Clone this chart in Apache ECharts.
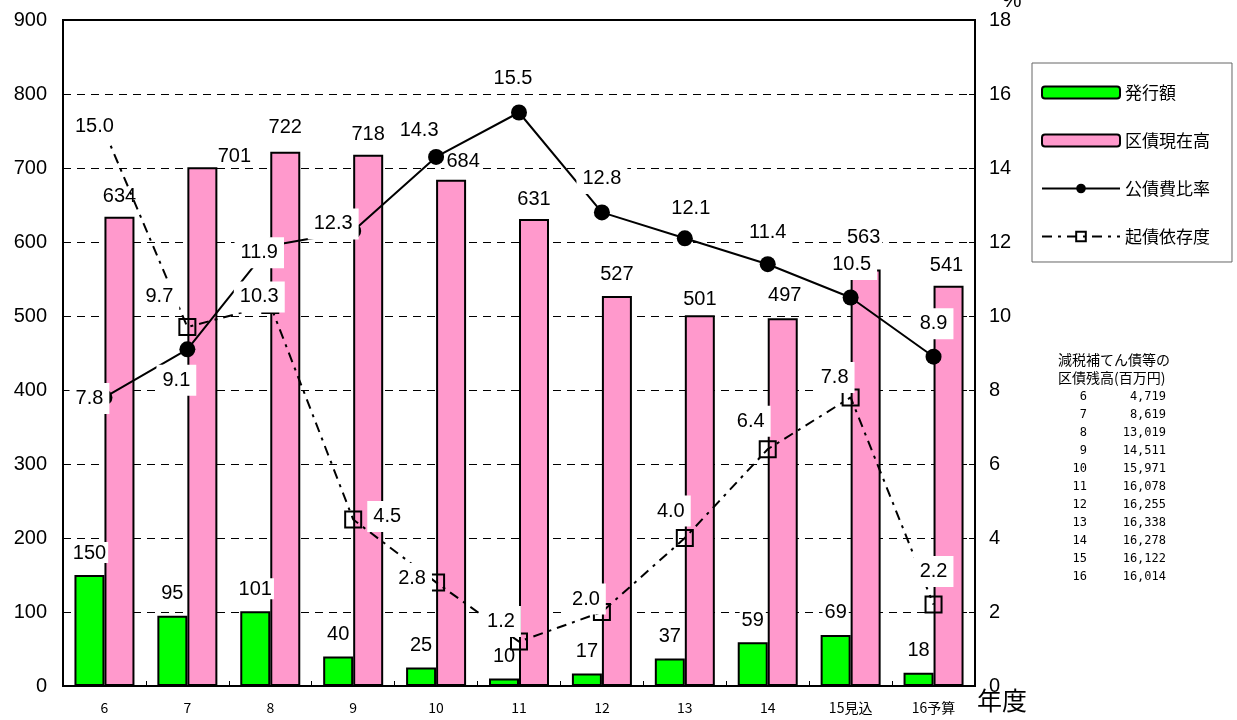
<!DOCTYPE html>
<html><head><meta charset="utf-8">
<script src="https://cdn.jsdelivr.net/npm/echarts@6/dist/echarts.min.js"></script>
<style>html,body{margin:0;padding:0;background:#fff}#c{width:1237px;height:720px}</style>
</head><body><div id="c"></div>
<script>
// ---- data ----
const categories = ['6','7','8','9','10','11','12','13','14','15見込','16予算'];
const issuance = [150, 95, 101, 40, 25, 10, 17, 37, 59, 69, 18];            // 発行額
const outstanding = [634, 701, 722, 718, 684, 631, 527, 501, 497, 563, 541]; // 区債現在高
const debtRatio = [7.8, 9.1, 11.9, 12.3, 14.3, 15.5, 12.8, 12.1, 11.4, 10.5, 8.9]; // 公債費比率
const dependency = [15.0, 9.7, 10.3, 4.5, 2.8, 1.2, 2.0, 4.0, 6.4, 7.8, 2.2];     // 起債依存度
const leftTicks = {min: 0, max: 900, interval: 100};
const rightTicks = {min: 0, max: 18, interval: 2};
const noteYears = ['6','7','8','9','10','11','12','13','14','15','16'];
const noteValues = ['4,719','8,619','13,019','14,511','15,971','16,078','16,255','16,338','16,278','16,122','16,014'];

// ---- label placement (style) ----
const outLabelOff = [[0,0],[32,9],[0,-4],[0,0],[12,2],[0,0],[0,-2],[0,4],[2,-3],[-2,-12],[-2,0]];
const ratioLabelOff = [[-15,1],[-11,31],[-11,7],[-20,-7],[-17,-26],[-6,-34],[0,-34],[6,-30],[0,-32],[1,-33],[0,-33]];
const depLabelOff = [[-10,-5],[-28,-31],[-11,-8],[34,-3],[-24,-4],[-18,-20],[-16,-13],[-14,-27],[-17,-28],[-16,-20],[0,-33]];

const numFont = 'Liberation Sans, Arial, sans-serif';
const jpFont = '"Noto Sans CJK JP", sans-serif';
const lblBase = {show: true, color: '#000', fontFamily: numFont, fontSize: 20, backgroundColor: '#fff', padding: [1, 2, 0, 2]};

function withOffsets(vals, offs, fmt) {
  return vals.map((v, i) => ({value: v, label: {offset: offs[i], formatter: fmt ? fmt(v) : String(v)}}));
}
function labelSeries(vals, offs) {
  return {type: 'scatter', yAxisIndex: 1, z: 20, silent: true, symbolSize: 1,
          itemStyle: {color: 'rgba(0,0,0,0)', opacity: 1},
          data: withOffsets(vals, offs, v => v.toFixed(1)),
          label: Object.assign({}, lblBase, {position: 'inside', padding: [6, 6, 5, 6]})};
}

const chart = echarts.init(document.getElementById('c'), null, {renderer: 'canvas'});

const graphics = [
  {type: 'text', left: 1058, top: 353, style: {text: '減税補てん債等の', font: '14px ' + jpFont, fill: '#000'}},
  {type: 'text', left: 1058, top: 371, style: {text: '区債残高(百万円)', font: '14px ' + jpFont, fill: '#000'}},
  {type: 'text', left: 977, top: 688, style: {text: '年度', font: '25px ' + jpFont, fill: '#000'}},
  {type: 'text', left: 1002, top: -10, style: {text: '%', font: '22px ' + numFont, fill: '#000'}}
];
noteYears.forEach((y, i) => {
  graphics.push({type: 'text', right: 1237 - 1087, top: 391 + i * 18, style: {text: y, font: '12px "DejaVu Sans Mono", monospace', fill: '#000', align: 'right'}});
  graphics.push({type: 'text', right: 1237 - 1166, top: 391 + i * 18, style: {text: noteValues[i], font: '12px "DejaVu Sans Mono", monospace', fill: '#000', align: 'right'}});
});

const option = {
  animation: false,
  backgroundColor: '#fff',
  grid: {left: 63, right: 262, top: 20, bottom: 34, show: true, borderColor: '#000', borderWidth: 2, backgroundColor: 'transparent'},
  legend: {
    orient: 'vertical', left: 1032, top: 63,
    padding: [21, 22, 17, 9], itemGap: 31,
    borderColor: '#666', borderWidth: 1,
    itemWidth: 78, itemHeight: 12,
    textStyle: {fontFamily: jpFont, fontSize: 17, color: '#000'},
    data: ['発行額', '区債現在高', '公債費比率', '起債依存度']
  },
  xAxis: {
    type: 'category', data: categories,
    axisLine: {lineStyle: {color: '#000', width: 2}},
    axisTick: {show: true, inside: true, length: 5, lineStyle: {color: '#000'}},
    axisLabel: {color: '#000', fontFamily: jpFont, fontSize: 14, margin: 15}
  },
  yAxis: [
    {type: 'value', min: leftTicks.min, max: leftTicks.max, interval: leftTicks.interval,
     axisLine: {show: true, lineStyle: {color: '#000', width: 2}},
     axisTick: {show: false},
     axisLabel: {color: '#000', fontFamily: numFont, fontSize: 20, margin: 16},
     splitLine: {show: true, lineStyle: {color: '#000', type: [8, 6], width: 1}}},
    {type: 'value', min: rightTicks.min, max: rightTicks.max, interval: rightTicks.interval, position: 'right',
     axisLine: {show: true, lineStyle: {color: '#000', width: 2}},
     axisTick: {show: true, inside: true, length: 6, lineStyle: {color: '#000'}},
     axisLabel: {color: '#000', fontFamily: numFont, fontSize: 20, margin: 14},
     splitLine: {show: false}}
  ],
  series: [
    {name: '発行額', type: 'bar', yAxisIndex: 0, data: issuance, barWidth: 30, barGap: '0%',
     itemStyle: {color: '#00FF00', borderColor: '#000', borderWidth: 2},
     label: Object.assign({}, lblBase, {position: 'top', distance: 12})},
    {name: '区債現在高', type: 'bar', yAxisIndex: 0, data: withOffsets(outstanding, outLabelOff), barWidth: 30, barGap: '0%',
     itemStyle: {color: '#FF99CC', borderColor: '#000', borderWidth: 2},
     label: Object.assign({}, lblBase, {position: 'top', distance: 10})},
    {name: '公債費比率', type: 'line', yAxisIndex: 1, z: 5,
     data: debtRatio,
     symbol: 'circle', symbolSize: 16,
     lineStyle: {color: '#000', width: 2}, itemStyle: {color: '#000'}},
    {name: '起債依存度', type: 'line', yAxisIndex: 1, z: 4,
     data: dependency,
     symbol: 'rect', symbolSize: 16,
     lineStyle: {color: '#000', width: 2, type: [10, 6, 3, 6]},
     itemStyle: {color: 'rgba(255,255,255,0)', borderColor: '#000', borderWidth: 2}},
    labelSeries(debtRatio, ratioLabelOff),
    labelSeries(dependency, depLabelOff)
  ],
  graphic: graphics
};
chart.setOption(option);
</script></body></html>
